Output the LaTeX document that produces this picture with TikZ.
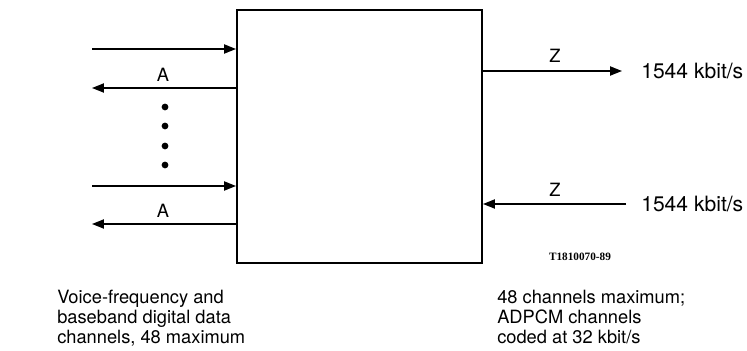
\documentclass[tikz,border=0pt]{standalone}
\usepackage{fontspec}
\setmainfont{TeX Gyre Heros}
\newfontfamily\codefont{Liberation Serif}
\usetikzlibrary{arrows.meta}

\tikzset{
  link/.style={line width=1.1pt, -{Triangle[length=8.5pt,width=6.5pt]}},
  lbl/.style={font=\fontsize{13}{15}\selectfont},
  rate/.style={font=\fontsize{15}{17}\selectfont, anchor=west, inner sep=0pt},
  note/.style={font=\fontsize{13}{14.2}\selectfont, align=left, anchor=north west, inner sep=0pt}
}

\begin{document}
\begin{tikzpicture}
  \useasboundingbox (0,0) rectangle (18.675,8.775);

  % Multiplexer box
  \node[draw, line width=1.4pt, minimum width=6.125cm, minimum height=6.325cm, inner sep=0pt]
    (mux) at (8.9875,5.3625) {};

  % Channel side
  \coordinate (in1) at (2.3,7.55);
  \coordinate (out1) at (2.3,6.575);
  \coordinate (in2) at (2.3,4.125);
  \coordinate (out2) at (2.3,3.175);
  \draw[link] (in1) -- (in1 -| mux.west);
  \draw[link] (out1 -| mux.west) -- (out1);
  \draw[link] (in2) -- (in2 -| mux.west);
  \draw[link] (out2 -| mux.west) -- (out2);
  \node[lbl] (a1) at (4.075,6.9) {A};
  \node[lbl] (a2) at (4.075,3.5) {A};
  \foreach \y in {6.1,5.625,5.125,4.65}
    \fill (4.125,\y) circle (2.4pt);

  % Trunk side
  \node[rate] (rateout) at (16.025,7.0) {1544 kbit/s};
  \node[rate] (ratein) at (16.025,3.675) {1544 kbit/s};
  \coordinate (zout) at (15.55,7.0);
  \coordinate (zin) at (15.65,3.675);
  \draw[link] (zout -| mux.east) -- (zout);
  \draw[link] (zin) -- (zin -| mux.east);
  \node[lbl] (z1) at (13.875,7.375) {Z};
  \node[lbl] (z2) at (13.875,4.025) {Z};

  \node[font=\codefont\bfseries\fontsize{8}{9}\selectfont] (ref) at (14.5,2.35) {T1810070-89};

  % Notes
  \node[note] (chnote) at (1.425,1.52) {Voice-frequency and\\baseband digital data\\channels, 48 maximum};
  \node[note] (trnote) at (12.425,1.52) {48 channels maximum;\\ADPCM channels\\coded at 32 kbit/s};
\end{tikzpicture}
\end{document}
